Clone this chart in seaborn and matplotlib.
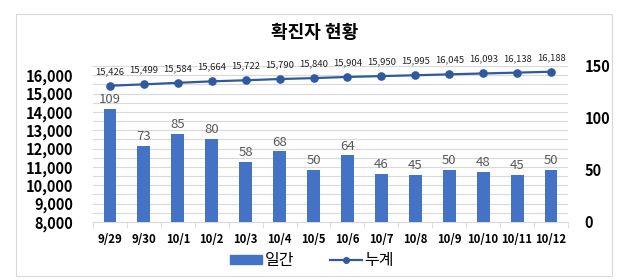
import numpy as np
import pandas as pd
import seaborn as sns
import matplotlib.pyplot as plt
from matplotlib.patches import Rectangle
from matplotlib.lines import Line2D
from matplotlib.ticker import FixedLocator, MultipleLocator

# 데이터
dates = ['9/29', '9/30', '10/1', '10/2', '10/3', '10/4', '10/5',
         '10/6', '10/7', '10/8', '10/9', '10/10', '10/11', '10/12']
daily = [109, 73, 85, 80, 58, 68, 50, 64, 46, 45, 50, 48, 45, 50]
cumulative = [15426, 15499, 15584, 15664, 15722, 15790, 15840,
              15904, 15950, 15995, 16045, 16093, 16138, 16188]

df = pd.DataFrame({'date': dates, 'daily': daily, 'cum': cumulative})

plt.rcParams['font.family'] = ['Noto Sans CJK KR', 'DejaVu Sans']
plt.rcParams['axes.unicode_minus'] = False

bar_color = '#4472C4'
line_color = '#2F5A9E'
text_gray = '#595959'

fig = plt.figure(figsize=(6.39, 2.80), dpi=100)
ax = fig.add_axes([93 / 639, 58 / 280, 475 / 639, 156 / 280])
ax2 = ax.twinx()

# 누계 (왼쪽 축)
sns.pointplot(data=df, x='date', y='cum', ax=ax, color=line_color,
              markers='o', markersize=5, linewidth=1.6)
ax.set_ylim(8000, 16500)
ax.yaxis.set_major_locator(FixedLocator(range(8000, 16001, 1000)))
ax.yaxis.set_minor_locator(MultipleLocator(500))
ax.grid(True, axis='y', which='both', color='#D9D9D9', linewidth=0.8)
ax.set_axisbelow(True)
ax.set_yticklabels([f'{v:,}' for v in range(8000, 16001, 1000)])

pts = ax.lines[0].get_xydata()
for (x, y), v in zip(pts, cumulative):
    ax.annotate(f'{v:,}', (x, y), xytext=(0, 7), textcoords='offset points',
                ha='center', va='bottom', fontsize=6.8, color='#222222')

# 일간 (오른쪽 축)
sns.barplot(data=df, x='date', y='daily', ax=ax2, color=bar_color,
            width=0.38, saturation=1)
ax2.set_ylim(0, 150)
ax2.set_yticks([0, 50, 100, 150])
ax2.bar_label(ax2.containers[0], padding=2, fontsize=9.5, color=text_gray)

ax.set_xlim(-0.5, len(dates) - 0.5)
ax.xaxis.set_minor_locator(FixedLocator(np.arange(-0.5, len(dates), 1)))
ax.tick_params(axis='x', which='major', length=0, pad=8, labelsize=8.2)
ax.tick_params(axis='x', which='minor', length=4, color='#D9D9D9')
ax.tick_params(axis='y', which='both', length=0, pad=14, labelsize=10.5)
ax2.tick_params(axis='y', length=0, pad=12, labelsize=10.5)
for lab in ax.get_xticklabels() + ax.get_yticklabels() + ax2.get_yticklabels():
    lab.set_fontweight('bold')

for a in (ax, ax2):
    for s in ['top', 'left', 'right']:
        a.spines[s].set_visible(False)
    a.set_xlabel('')
    a.set_ylabel('')
ax.spines['bottom'].set_color('#D9D9D9')
ax2.spines['bottom'].set_visible(False)

fig.text(315 / 639, 1 - 33 / 280, '확진자 현황', ha='center', va='center',
         fontsize=13, fontweight='bold')

handles = [Rectangle((0, 0), 1, 1, color=bar_color),
           Line2D([], [], color=line_color, marker='o', markersize=4, linewidth=1.6)]
fig.legend(handles, ['일간', '누계'], loc='center', ncol=2, frameon=False,
           bbox_to_anchor=(312 / 639, 1 - 261 / 280), fontsize=11.5,
           handlelength=2.0, handleheight=0.5, handletextpad=0.2, columnspacing=2.2)

fig.patches.append(Rectangle((16 / 639, 4 / 280), 596 / 639, 262 / 280,
                             transform=fig.transFigure, fill=False,
                             edgecolor='#D9D9D9', linewidth=0.8))

plt.savefig('out.png', dpi=100)
